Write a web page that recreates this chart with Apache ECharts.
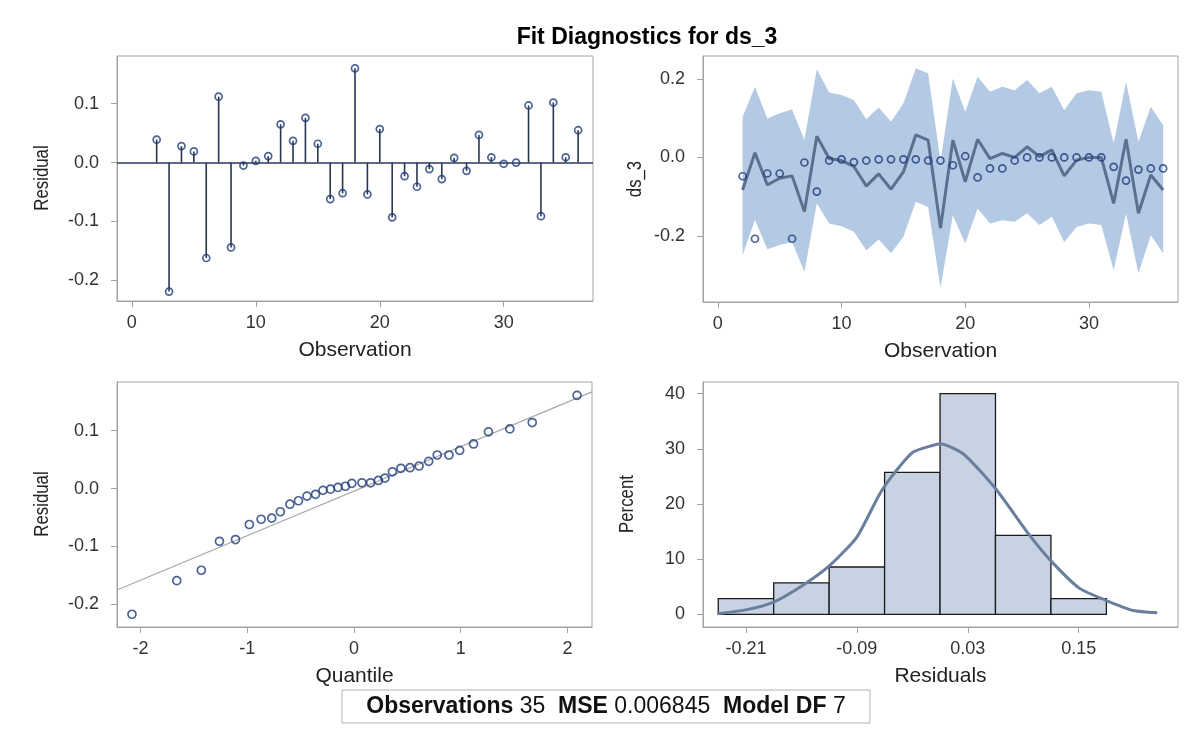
<!DOCTYPE html>
<html>
<head>
<meta charset="utf-8">
<script src="https://cdn.jsdelivr.net/npm/echarts@6/dist/echarts.min.js"></script>
<style>html,body{margin:0;padding:0;background:#fff}#c{width:1193px;height:734px}</style>
</head>
<body>
<div id="c"></div>
<script>
// ---------- DATA ----------
const observations = [2,3,4,5,6,7,8,9,10,11,12,13,14,15,16,17,18,19,20,21,22,23,24,25,26,27,28,29,30,31,32,33,34,35,36];
const residuals = [0.039,-0.219,0.028,0.019,-0.162,0.112,-0.144,-0.005,0.003,0.011,0.065,0.037,0.076,0.032,-0.062,-0.052,
  0.160,-0.054,0.057,-0.093,-0.023,-0.041,-0.011,-0.028,0.008,-0.014,0.047,0.009,-0.002,0.000,0.097,-0.091,0.102,0.009,0.055];
const actualDs3 = [-0.048,-0.207,-0.041,-0.041,-0.207,-0.013,-0.087,-0.008,-0.005,-0.012,-0.008,-0.005,-0.005,-0.005,-0.005,-0.008,
  -0.008,-0.020,0.003,-0.051,-0.028,-0.028,-0.008,0.000,0.000,0.000,0.000,0.000,0.000,0.000,-0.024,-0.059,-0.031,-0.028,-0.028];
const predictedDs3 = [-0.083,0.012,-0.070,-0.053,-0.047,-0.138,0.054,-0.003,-0.008,-0.023,-0.073,-0.042,-0.081,-0.037,0.057,0.044,
  -0.180,0.044,-0.062,0.046,-0.003,0.010,0.000,0.027,0.002,0.019,-0.047,-0.007,0.000,0.000,-0.117,0.046,-0.142,-0.045,-0.083];
const upperLimit = [0.103,0.180,0.099,0.112,0.122,0.044,0.224,0.165,0.159,0.146,0.097,0.127,0.091,0.137,0.226,0.214,
  -0.010,0.201,0.116,0.205,0.167,0.180,0.171,0.197,0.163,0.180,0.120,0.163,0.171,0.167,0.036,0.192,0.040,0.129,0.082];
const lowerLimit = [-0.249,-0.159,-0.234,-0.223,-0.215,-0.291,-0.117,-0.168,-0.175,-0.189,-0.236,-0.209,-0.244,-0.202,-0.113,-0.126,
  -0.331,-0.147,-0.219,-0.130,-0.168,-0.160,-0.164,-0.142,-0.172,-0.151,-0.215,-0.177,-0.168,-0.172,-0.287,-0.143,-0.295,-0.198,-0.244];
const qqQuantiles = [-2.08,-1.66,-1.43,-1.26,-1.11,-0.98,-0.87,-0.77,-0.69,-0.60,-0.52,-0.44,-0.36,-0.29,-0.22,-0.15,-0.08,-0.02,
  0.075,0.156,0.228,0.29,0.36,0.44,0.525,0.61,0.70,0.78,0.89,0.99,1.12,1.26,1.46,1.67,2.09];
const qqResiduals = [-0.217,-0.159,-0.141,-0.091,-0.088,-0.062,-0.053,-0.051,-0.040,-0.027,-0.021,-0.013,-0.010,-0.003,-0.001,0.002,0.004,0.009,
  0.010,0.010,0.014,0.018,0.029,0.035,0.036,0.039,0.047,0.058,0.058,0.066,0.077,0.098,0.103,0.114,0.161];
const qqLineX = [-2.22, 2.23];
const qqLineY = [-0.175, 0.167];
const binLower = [-0.24,-0.18,-0.12,-0.06,0.00,0.06,0.12];
const binUpper = [-0.18,-0.12,-0.06,0.00,0.06,0.12,0.18];
const binPercent = [2.86,5.71,8.57,25.71,40.0,14.29,2.86];
const curveX = [-0.241,-0.209,-0.180,-0.148,-0.119,-0.090,-0.065,-0.047,-0.029,-0.008,0.000,0.025,0.060,0.097,0.121,0.151,0.180,0.209,0.235];
const curveY = [0.1,0.85,2.2,5.3,8.9,14.0,21.9,26.1,29.4,30.6,30.9,29.1,22.8,14.3,9.5,4.7,2.5,0.7,0.3];
const obsTicks = [0,10,20,30];
const residTicks = [-0.2,-0.1,0.0,0.1];
const ds3Ticks = [-0.2,0.0,0.2];
const quantileTicks = [-2,-1,0,1,2];
const histXTicks = [-0.21,-0.09,0.03,0.15];
const percentTicks = [0,10,20,30,40];
const titleText = 'Fit Diagnostics for ds_3';
const yNames = ['Residual', 'ds_3', 'Residual', 'Percent'];
const footer = {obs: 35, mse: '0.006845', df: 7};

// ---------- STYLE ----------
const FONT = 'Liberation Sans, Arial, sans-serif';
const FRAME = '#a3a3a3';
const navy = '#1f3c7c';
const TICKFS = 18, NAMEFS = 21;

function xAx(grid, min, max, ticks, name, dec) {
  return {
    type: 'value', gridIndex: grid, min: min, max: max,
    name: name, nameLocation: 'middle', nameGap: 39,
    nameTextStyle: {fontFamily: FONT, fontSize: NAMEFS, color: '#222'},
    axisLine: {show: true, onZero: false, lineStyle: {color: FRAME}},
    axisTick: {show: true, length: 6, customValues: ticks, lineStyle: {color: FRAME}},
    axisLabel: {customValues: ticks, margin: 13, fontFamily: FONT, fontSize: TICKFS, color: '#333',
      formatter: v => dec == null ? String(Math.round(v)) : Number(v).toFixed(dec)},
    splitLine: {show: false}
  };
}
function yAx(grid, min, max, ticks, dec) {
  return {
    type: 'value', gridIndex: grid, min: min, max: max,
    axisLine: {show: true, onZero: false, lineStyle: {color: FRAME}},
    axisTick: {show: true, length: 6, customValues: ticks, lineStyle: {color: FRAME}},
    axisLabel: {customValues: ticks, margin: 18, fontFamily: FONT, fontSize: TICKFS, color: '#333',
      formatter: v => dec == null ? String(Math.round(v)) : Number(v).toFixed(dec)},
    splitLine: {show: false}
  };
}
// condensed, rotated y-axis titles (the original uses a narrow face)
function yName(text, x, y) {
  return {type: 'text', x: x, y: y, rotation: Math.PI / 2, scaleX: 0.8, silent: true,
    style: {text: text, align: 'center', verticalAlign: 'middle', fontFamily: FONT, fontSize: 21, fill: '#222'}};
}
const gridStyle = {show: true, borderColor: FRAME, borderWidth: 1, containLabel: false};
const circleStyle = {color: 'rgba(255,255,255,0)', borderColor: navy, borderWidth: 1.7};

const stemData = observations.map((o, i) => [o, residuals[i]]);
const ds3Data = observations.map((o, i) => [o, actualDs3[i]]);
const predData = observations.map((o, i) => [o, predictedDs3[i]]);
const qqData = qqQuantiles.map((q, i) => [q, qqResiduals[i]]);
const qqLine = qqLineX.map((q, i) => [q, qqLineY[i]]);
const histData = binLower.map((lo, i) => [lo, binUpper[i], binPercent[i]]);
const curveData = curveX.map((x, i) => [x, curveY[i]]);

const option = {
  animation: false,
  backgroundColor: '#fff',
  title: {text: titleText, left: 642, textAlign: 'center', top: 21,
    textStyle: {fontFamily: FONT, fontSize: 23, fontWeight: 'bold', color: '#000'}},
  grid: [
    Object.assign({left: 117, top: 56, width: 476, height: 245}, gridStyle),
    Object.assign({left: 703, top: 56, width: 475, height: 246}, gridStyle),
    Object.assign({left: 117, top: 382, width: 475, height: 245}, gridStyle),
    Object.assign({left: 703, top: 382, width: 475, height: 245}, gridStyle)
  ],
  xAxis: [
    xAx(0, -1.2, 37.2, obsTicks, 'Observation', null),
    xAx(1, -1.2, 37.2, obsTicks, 'Observation', null),
    xAx(2, -2.22, 2.23, quantileTicks, 'Quantile', null),
    xAx(3, -0.2565, 0.2575, histXTicks, 'Residuals', 2)
  ],
  yAxis: [
    yAx(0, -0.235, 0.181, residTicks, 1),
    yAx(1, -0.368, 0.258, ds3Ticks, 1),
    yAx(2, -0.239, 0.184, residTicks, 1),
    yAx(3, -2.3, 42.1, percentTicks, null)
  ],
  series: [
    {
      type: 'custom', xAxisIndex: 0, yAxisIndex: 0, data: stemData, z: 3,
      renderItem: function (params, api) {
        const p0 = api.coord([api.value(0), 0]);
        const p1 = api.coord([api.value(0), api.value(1)]);
        return {type: 'line', shape: {x1: p0[0], y1: p0[1], x2: p1[0], y2: p1[1]},
          style: {stroke: '#2a3650', lineWidth: 1.6}};
      },
      markLine: {silent: true, symbol: 'none', label: {show: false},
        lineStyle: {color: '#2a3a5c', width: 1.6, type: 'solid'}, data: [{yAxis: 0}]}
    },
    {
      type: 'scatter', xAxisIndex: 0, yAxisIndex: 0, data: stemData, z: 4,
      symbol: 'circle', symbolSize: 7, itemStyle: circleStyle
    },
    {
      type: 'custom', xAxisIndex: 1, yAxisIndex: 1, data: [[observations[0], 0]], z: 1,
      renderItem: function (params, api) {
        const pts = [];
        for (let i = 0; i < observations.length; i++) pts.push(api.coord([observations[i], upperLimit[i]]));
        for (let i = observations.length - 1; i >= 0; i--) pts.push(api.coord([observations[i], lowerLimit[i]]));
        return {type: 'polygon', shape: {points: pts}, style: {fill: '#b3c9e4', stroke: 'none'}};
      }
    },
    {
      type: 'line', xAxisIndex: 1, yAxisIndex: 1, data: predData, z: 3,
      symbol: 'none', lineStyle: {color: '#5b7090', width: 3}
    },
    {
      type: 'scatter', xAxisIndex: 1, yAxisIndex: 1, data: ds3Data, z: 4,
      symbol: 'circle', symbolSize: 7, itemStyle: circleStyle
    },
    {
      type: 'line', xAxisIndex: 2, yAxisIndex: 2, data: qqLine, z: 2,
      symbol: 'none', lineStyle: {color: '#a8a8a8', width: 1.2}
    },
    {
      type: 'scatter', xAxisIndex: 2, yAxisIndex: 2, data: qqData, z: 4,
      symbol: 'circle', symbolSize: 8, itemStyle: circleStyle
    },
    {
      type: 'custom', xAxisIndex: 3, yAxisIndex: 3, data: histData, z: 2,
      encode: {x: [0, 1], y: 2},
      renderItem: function (params, api) {
        const a = api.coord([api.value(0), api.value(2)]);
        const b = api.coord([api.value(1), 0]);
        return {type: 'rect', shape: {x: a[0], y: a[1], width: b[0] - a[0], height: b[1] - a[1]},
          style: {fill: '#c7d3e3', stroke: '#1a1a1a', lineWidth: 1.3}};
      }
    },
    {
      type: 'line', xAxisIndex: 3, yAxisIndex: 3, data: curveData, z: 4, smooth: 0.2,
      symbol: 'none', lineStyle: {color: '#6a7e9e', width: 3}
    }
  ],
  graphic: [
    yName(yNames[0], 42, 178),
    yName(yNames[1], 635, 179),
    yName(yNames[2], 42, 504),
    yName(yNames[3], 627, 504),
    {type: 'rect', shape: {x: 342, y: 690, width: 528, height: 33},
      style: {fill: '#fff', stroke: '#b0b0b0', lineWidth: 1}},
    {type: 'text', x: 606, y: 707,
      style: {text: '{b|Observations} ' + footer.obs + '  {b|MSE} ' + footer.mse + '  {b|Model DF} ' + footer.df,
        align: 'center', verticalAlign: 'middle', fontFamily: FONT, fontSize: 23, fill: '#111',
        rich: {b: {fontWeight: 'bold', fontFamily: FONT, fontSize: 23, fill: '#111'}}}}
  ]
};
const chart = echarts.init(document.getElementById('c'), null, {renderer: 'canvas'});
chart.setOption(option);
</script>
</body>
</html>
